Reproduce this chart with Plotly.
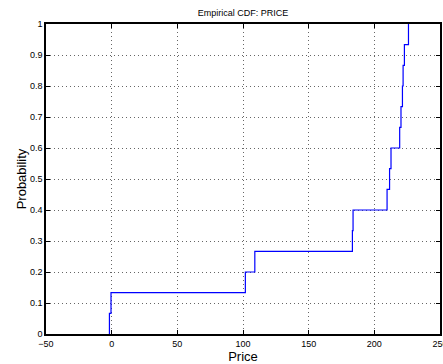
import numpy as np
import plotly.graph_objects as go

# Sample prices (15 observations) read from the ECDF steps
prices = [-1.7, -0.5, 101.8, 109.0, 183.3, 183.8, 209.7, 211.6, 212.7,
          219.3, 220.3, 221.4, 221.9, 222.9, 226.0]

x_ticks = [-50, 0, 50, 100, 150, 200, 250]
y_ticks = [0, 0.1, 0.2, 0.3, 0.4, 0.5, 0.6, 0.7, 0.8, 0.9, 1]
y_tick_labels = ["0", "0.1", "0.2", "0.3", "0.4", "0.5", "0.6", "0.7", "0.8", "0.9", "1"]

xs = np.sort(np.array(prices))
n = len(xs)
cdf_x = np.concatenate([[xs[0]], xs])
cdf_y = np.concatenate([[0.0], np.arange(1, n + 1) / n])

fig = go.Figure()
fig.add_trace(go.Scatter(x=cdf_x, y=cdf_y, mode="lines", line_shape="hv",
                         line=dict(color="#0000ff", width=1.2), showlegend=False,
                         cliponaxis=True))

font_family = "Liberation Sans, Arial, sans-serif"
axis_common = dict(
    showline=True, linecolor="black", linewidth=1.5, mirror="ticks",
    ticks="inside", ticklen=4, tickcolor="black", tickwidth=1,
    showgrid=True, gridcolor="rgba(0,0,0,0.6)", griddash="1px,3px", gridwidth=1,
    zeroline=False, tickfont=dict(family=font_family, size=9, color="black"),
    automargin=False, ticklabeloverflow="allow",
)

fig.update_layout(
    width=443, height=364,
    margin=dict(l=46, r=3, t=24, b=30),
    paper_bgcolor="white", plot_bgcolor="white",
    title=dict(text="Empirical CDF: PRICE", x=0.5, xanchor="center",
               xref="paper", yref="container", automargin=False,
               y=1 - 13 / 364, yanchor="middle",
               font=dict(family=font_family, size=9, color="black")),
    xaxis=dict(range=[-50, 250], tickvals=x_ticks,
               title=dict(text="Price", standoff=0,
                          font=dict(family=font_family, size=13, color="black")),
               **axis_common),
    yaxis=dict(range=[0, 1], tickvals=y_ticks, ticktext=y_tick_labels,
               title=dict(text="Probability", standoff=0,
                          font=dict(family=font_family, size=13, color="black")),
               **axis_common),
)

fig.write_html("out.html", config={"displayModeBar": False},
               post_script="document.body.style.margin='0';document.body.style.overflow='hidden';")
